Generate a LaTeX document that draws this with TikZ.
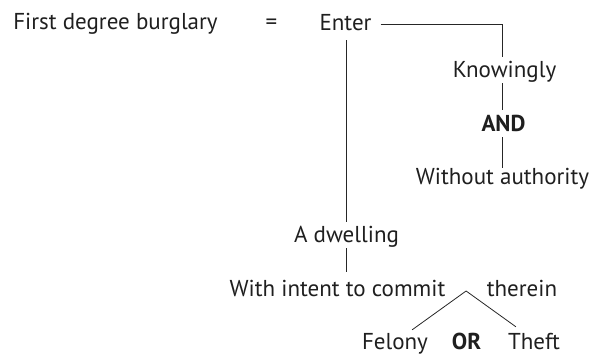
\documentclass[tikz,border=0pt]{standalone}
\usepackage{fontspec}
\setmainfont{PT Sans}
\usetikzlibrary{calc}

\begin{document}
\begin{tikzpicture}[x=1pt, y=-1pt,
    term/.style={inner sep=0pt, text height=17pt, text depth=5pt, anchor=base,
                 font=\fontsize{23}{27}\selectfont, text=black!88},
    op/.style={term, font=\fontsize{23}{27}\selectfont\bfseries},
    conn/.style={line width=0.8pt, black!85}
]
    \useasboundingbox (0,0) rectangle (592,355);

    \node[term] (crime) at (115.5,30) {First degree burglary};
    \node[term] (eq) at (271.5,30) {=};
    \node[term] (enter) at (345.5,31) {Enter};
    \node[term] (know) at (504.5,78) {Knowingly};
    \node[op] (and) at (503.5,132) {AND};
    \node[term] (noauth) at (502.5,185) {Without authority};
    \node[term] (dwell) at (346.5,243) {A dwelling};
    \node[term] (intent) at (337.5,297) {With intent to commit};
    \node[term] (therein) at (522,297) {therein};
    \node[term] (felony) at (395,350) {Felony};
    \node[op] (or) at (466.5,350) {OR};
    \node[term] (theft) at (534,350) {Theft};

    \coordinate (fork) at ($(intent.east)!0.5!(therein.west)$);

    \draw[conn] ([xshift=9pt,yshift=1pt]enter.east) -| ([xshift=-2.5pt,yshift=4pt]know.north);
    \draw[conn, shorten >=5pt] ([xshift=-2.5pt]know.south) -- ([xshift=-1.5pt]and.north);
    \draw[conn] ([xshift=-1.5pt]and.south) -- ([xshift=-0.5pt]noauth.north);
    \draw[conn, shorten <=4pt, shorten >=4pt] (enter.south -| dwell.north) -- (dwell.north);
    \draw[conn, shorten >=8pt] (dwell.south) -- (dwell.south |- intent.north);
    \draw[conn] ([xshift=-16pt,yshift=3pt]felony.north east) -- (fork)
        -- ([xshift=8pt,yshift=6pt]theft.north west);
\end{tikzpicture}
\end{document}
